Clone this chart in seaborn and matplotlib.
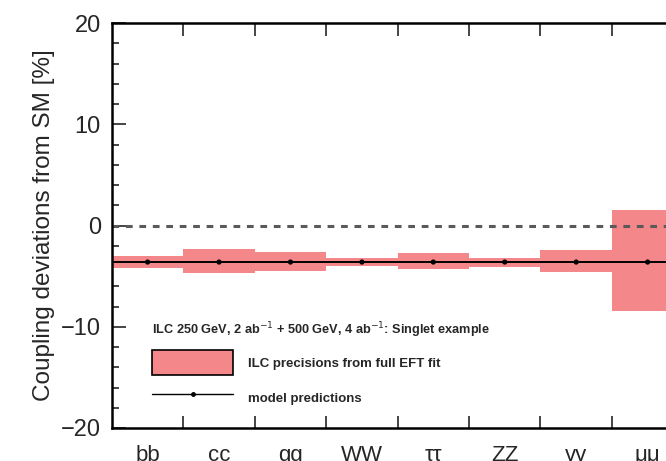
import numpy as np
import matplotlib
matplotlib.use("Agg")
import matplotlib.pyplot as plt
import seaborn as sns
from matplotlib.patches import Patch
from matplotlib.lines import Line2D

# coupling deviations [%]
channels = ["bb", "cc", "gg", "WW", "ττ", "ZZ", "γγ", "μμ"]
band_hi = [-3.0, -2.33, -2.57, -3.23, -2.73, -3.17, -2.43, 1.5]
band_lo = [-4.17, -4.67, -4.5, -4.0, -4.33, -4.07, -4.6, -8.4]
model = [-3.6, -3.6, -3.6, -3.6, -3.6, -3.6, -3.6, -3.6]

sns.set_style("ticks")
plt.rcParams["font.family"] = ["Liberation Sans", "DejaVu Sans"]

fig = plt.figure(figsize=(6.66, 4.61), dpi=100)
ax = fig.add_axes([0.168, 0.0716, 0.858, 0.878])

x = np.arange(len(channels))
lo = np.array(band_lo)
hi = np.array(band_hi)
ax.bar(x, hi - lo, bottom=lo, width=1.0, color="#f4878a", linewidth=0, zorder=1)

ax.axhline(0, color="#5a5a5a", lw=2.2, ls=(0, (2.2, 2.2)), zorder=2)

ax.hlines(model, x - 0.5, x + 0.5, color="black", lw=1.4, zorder=3)
sns.scatterplot(x=x, y=model, color="black", s=14, edgecolor="none", ax=ax, zorder=4)

ax.set_xlim(-0.5, len(channels) - 0.5)
ax.set_ylim(-20, 20)
ax.set_xticks(x)
ax.set_xticklabels(channels)
ax.set_xticks(x[:-1] + 0.5, minor=True)
ax.set_yticks([-20, -10, 0, 10, 20])
ax.set_yticks(np.arange(-20, 21, 2), minor=True)

ax.tick_params(axis="x", which="major", length=0, pad=12, labelsize=16)
ax.tick_params(axis="x", which="minor", direction="in", length=9, width=1.2, top=True, bottom=True)
ax.tick_params(axis="y", which="major", direction="in", length=10, width=1.2, right=True, labelsize=17, pad=8)
ax.tick_params(axis="y", which="minor", direction="in", length=5, width=1.2, right=True)
for s in ax.spines.values():
    s.set_linewidth(1.8)
    s.set_color("black")

ax.set_ylabel("Coupling deviations from SM [%]", fontsize=17.5, labelpad=4)

handles = [
    Patch(facecolor="#f4878a", edgecolor="black", linewidth=1.2),
    Line2D([0], [0], color="black", lw=1.0, marker="o", markersize=2.5),
]
leg = ax.legend(handles, ["ILC precisions from full EFT fit", "model predictions"],
                title=r"ILC 250 GeV, 2 ab$^{-1}$ + 500 GeV, 4 ab$^{-1}$: Singlet example",
                loc="lower left", bbox_to_anchor=(0.05, 0.015), frameon=False,
                handlelength=6.1, handleheight=2.5, labelspacing=0.8, handletextpad=1.15,
                prop={"weight": "bold", "size": 9.5},
                title_fontproperties={"weight": "bold", "size": 9.2})
leg._legend_box.align = "left"

fig.savefig("out.png", dpi=100)
